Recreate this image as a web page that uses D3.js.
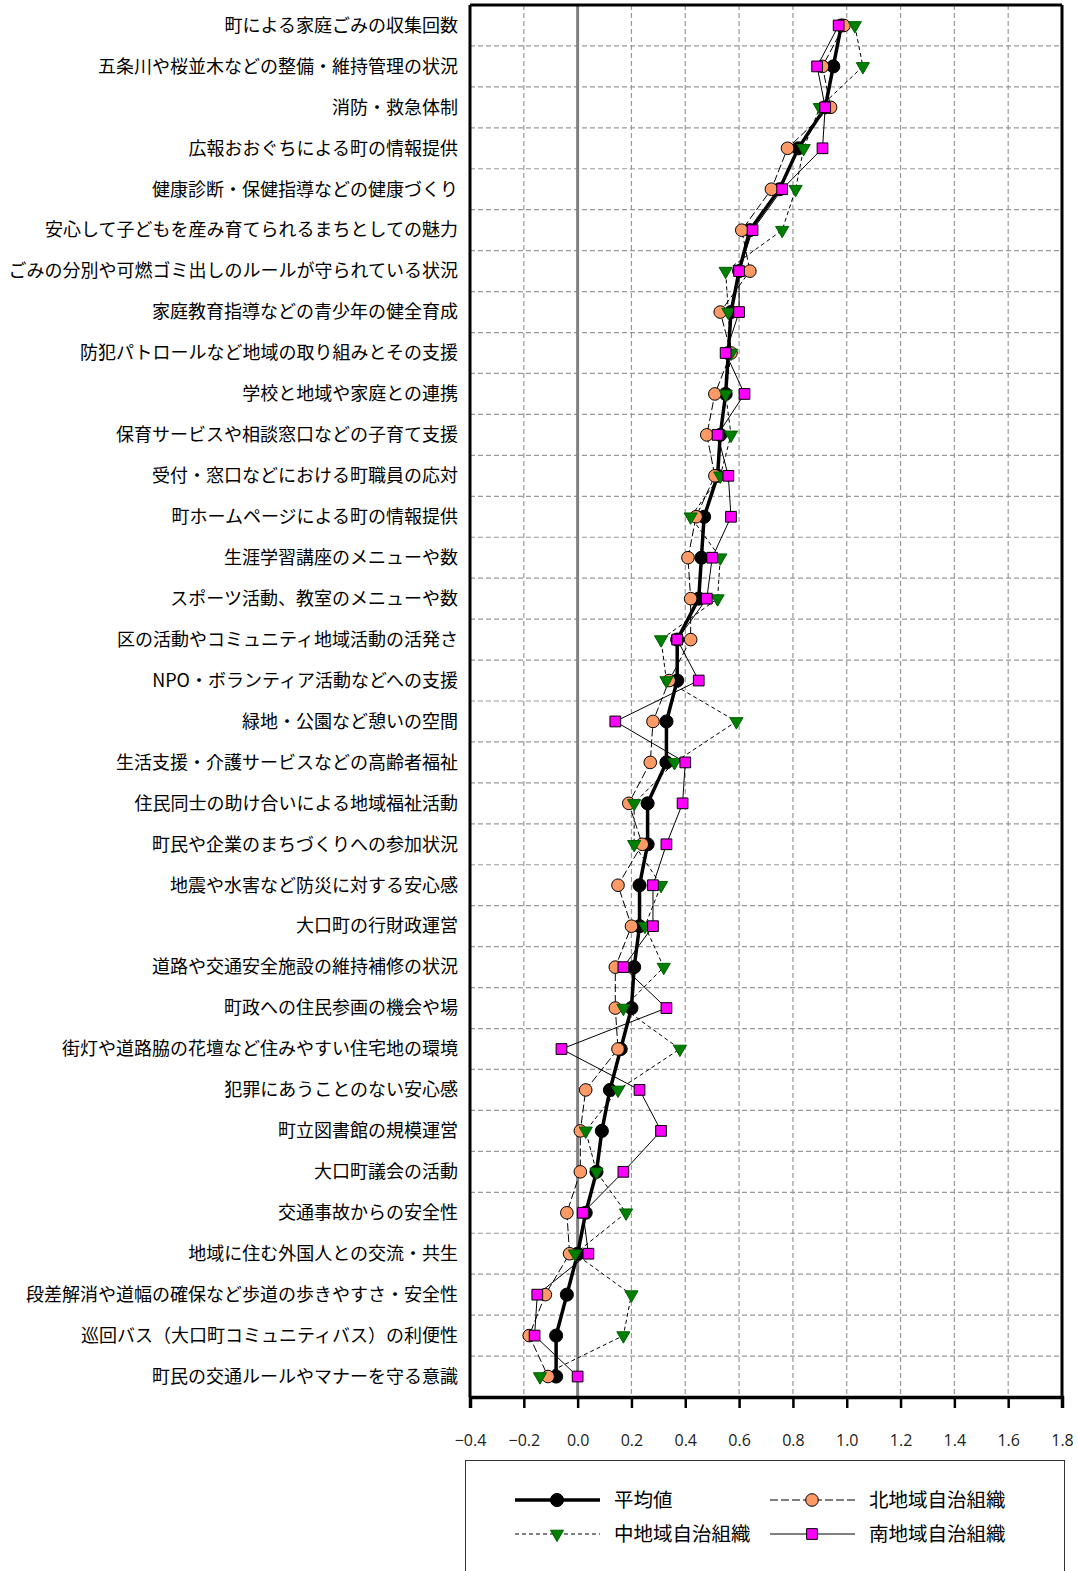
<!DOCTYPE html>
<html>
<head>
<meta charset="utf-8">
<script src="https://cdn.jsdelivr.net/npm/d3@7"></script>
<style>
  body { margin: 0; background: #fff; }
</style>
</head>
<body>
<svg id="chart" width="1078" height="1571"></svg>
<script>
// 項目（上から順）
const categories = [
  "町による家庭ごみの収集回数",
  "五条川や桜並木などの整備・維持管理の状況",
  "消防・救急体制",
  "広報おおぐちによる町の情報提供",
  "健康診断・保健指導などの健康づくり",
  "安心して子どもを産み育てられるまちとしての魅力",
  "ごみの分別や可燃ゴミ出しのルールが守られている状況",
  "家庭教育指導などの青少年の健全育成",
  "防犯パトロールなど地域の取り組みとその支援",
  "学校と地域や家庭との連携",
  "保育サービスや相談窓口などの子育て支援",
  "受付・窓口などにおける町職員の応対",
  "町ホームページによる町の情報提供",
  "生涯学習講座のメニューや数",
  "スポーツ活動、教室のメニューや数",
  "区の活動やコミュニティ地域活動の活発さ",
  "NPO・ボランティア活動などへの支援",
  "緑地・公園など憩いの空間",
  "生活支援・介護サービスなどの高齢者福祉",
  "住民同士の助け合いによる地域福祉活動",
  "町民や企業のまちづくりへの参加状況",
  "地震や水害など防災に対する安心感",
  "大口町の行財政運営",
  "道路や交通安全施設の維持補修の状況",
  "町政への住民参画の機会や場",
  "街灯や道路脇の花壇など住みやすい住宅地の環境",
  "犯罪にあうことのない安心感",
  "町立図書館の規模運営",
  "大口町議会の活動",
  "交通事故からの安全性",
  "地域に住む外国人との交流・共生",
  "段差解消や道幅の確保など歩道の歩きやすさ・安全性",
  "巡回バス（大口町コミュニティバス）の利便性",
  "町民の交通ルールやマナーを守る意識"
];

// 平均値
const avgValues = [0.98, 0.95, 0.92, 0.82, 0.75, 0.64, 0.60, 0.57, 0.56, 0.55, 0.53, 0.52,
  0.47, 0.46, 0.45, 0.37, 0.37, 0.33, 0.33, 0.26, 0.26, 0.23, 0.23, 0.21, 0.20, 0.16,
  0.12, 0.09, 0.07, 0.03, 0.00, -0.04, -0.08, -0.08];
// 北地域自治組織
const northValues = [0.99, 0.91, 0.94, 0.78, 0.72, 0.61, 0.64, 0.53, 0.57, 0.51, 0.48, 0.51,
  0.44, 0.41, 0.42, 0.42, 0.34, 0.28, 0.27, 0.19, 0.24, 0.15, 0.20, 0.14, 0.14, 0.15,
  0.03, 0.01, 0.01, -0.04, -0.03, -0.12, -0.18, -0.11];
// 中地域自治組織
const middleValues = [1.03, 1.06, 0.90, 0.84, 0.81, 0.76, 0.55, 0.56, 0.57, 0.55, 0.57, 0.53,
  0.42, 0.53, 0.52, 0.31, 0.33, 0.59, 0.36, 0.21, 0.21, 0.31, 0.25, 0.32, 0.17, 0.38,
  0.15, 0.03, 0.07, 0.18, -0.01, 0.20, 0.17, -0.14];
// 南地域自治組織
const southValues = [0.97, 0.89, 0.92, 0.91, 0.76, 0.65, 0.60, 0.60, 0.55, 0.62, 0.52, 0.56,
  0.57, 0.50, 0.48, 0.37, 0.45, 0.14, 0.40, 0.39, 0.33, 0.28, 0.28, 0.17, 0.33, -0.06,
  0.23, 0.31, 0.17, 0.02, 0.04, -0.15, -0.16, 0.00];

const xTicks = [-0.4, -0.2, 0.0, 0.2, 0.4, 0.6, 0.8, 1.0, 1.2, 1.4, 1.6, 1.8];

const seriesNames = ["平均値", "北地域自治組織", "中地域自治組織", "南地域自治組織"];

const svg = d3.select("#chart");
const plotLeft = 470, plotRight = 1062, plotTop = 5, plotBottom = 1397;

const x = d3.scaleLinear().domain([-0.4, 1.8]).range([plotLeft, plotRight]);
const y = d3.scaleBand().domain(categories).range([plotTop, plotBottom]);
const cy = d => y(d) + y.bandwidth() / 2;

// grid lines
const grid = svg.append("g");
grid.selectAll(".vgrid")
  .data(xTicks.filter(t => t > -0.4 && t < 1.8 && Math.abs(t) > 1e-9))
  .enter().append("line")
  .attr("x1", d => x(d)).attr("x2", d => x(d))
  .attr("y1", plotTop).attr("y2", plotBottom)
  .attr("stroke", "#999").attr("stroke-width", 1.2)
  .attr("stroke-dasharray", "5,3");
grid.selectAll(".hgrid")
  .data(categories.slice(1))
  .enter().append("line")
  .attr("x1", plotLeft).attr("x2", plotRight)
  .attr("y1", d => y(d)).attr("y2", d => y(d))
  .attr("stroke", "#999").attr("stroke-width", 1.2)
  .attr("stroke-dasharray", "5,3");

// zero line
svg.append("line")
  .attr("x1", x(0)).attr("x2", x(0))
  .attr("y1", plotTop).attr("y2", plotBottom)
  .attr("stroke", "#808080").attr("stroke-width", 3);

// series setup
const series = [
  { name: seriesNames[0], values: avgValues, width: 3.5, dash: null,
    symbol: d3.symbolCircle, size: 135, fill: "#000", stroke: "#000", rotate: 0 },
  { name: seriesNames[1], values: northValues, width: 1, dash: "8,3",
    symbol: d3.symbolCircle, size: 125, fill: "#FF9966", stroke: "#000", rotate: 0 },
  { name: seriesNames[2], values: middleValues, width: 1, dash: "4,3",
    symbol: d3.symbolTriangle, size: 75, fill: "#008000", stroke: "#006000", rotate: 180 },
  { name: seriesNames[3], values: southValues, width: 1, dash: null,
    symbol: d3.symbolSquare, size: 115, fill: "#FF00FF", stroke: "#000", rotate: 0 }
];

const line = d3.line().x(d => x(d.v)).y(d => cy(d.c));

// lines (thin ones first, average on top)
[3, 2, 1, 0].forEach(i => {
  const s = series[i];
  const pts = categories.map((c, j) => ({ c: c, v: s.values[j] }));
  svg.append("path")
    .datum(pts)
    .attr("d", line)
    .attr("fill", "none")
    .attr("stroke", "#000")
    .attr("stroke-width", s.width)
    .attr("stroke-dasharray", s.dash);
});

// markers
series.forEach(s => {
  const pts = categories.map((c, j) => ({ c: c, v: s.values[j] }));
  svg.append("g").selectAll("path")
    .data(pts)
    .enter().append("path")
    .attr("d", d3.symbol().type(s.symbol).size(s.size))
    .attr("transform", d => `translate(${x(d.v)},${cy(d.c)}) rotate(${s.rotate})`)
    .attr("fill", s.fill)
    .attr("stroke", s.stroke)
    .attr("stroke-width", 1);
});

// frame
svg.append("line").attr("x1", plotLeft).attr("x2", plotLeft).attr("y1", plotTop).attr("y2", plotBottom)
  .attr("stroke", "#000").attr("stroke-width", 3);
svg.append("line").attr("x1", plotRight).attr("x2", plotRight).attr("y1", plotTop).attr("y2", plotBottom)
  .attr("stroke", "#000").attr("stroke-width", 3);
svg.append("line").attr("x1", plotLeft).attr("x2", plotRight).attr("y1", plotTop).attr("y2", plotTop)
  .attr("stroke", "#000").attr("stroke-width", 3);

// x axis
const xAxis = d3.axisBottom(x)
  .tickValues(xTicks)
  .tickSize(11)
  .tickPadding(27)
  .tickFormat(d3.format(".1f"));
const gx = svg.append("g")
  .attr("transform", `translate(0,${plotBottom})`)
  .call(xAxis);
gx.select(".domain").attr("stroke-width", 3.5);
gx.selectAll(".tick line").attr("stroke-width", 2.5);
gx.selectAll(".tick text")
  .attr("font-family", "'Open Sans', 'DejaVu Sans', sans-serif")
  .attr("font-size", 16)
  .attr("fill", "#222");

// category labels
svg.append("g").selectAll("text")
  .data(categories)
  .enter().append("text")
  .attr("x", 458)
  .attr("y", d => cy(d))
  .attr("dy", "0.35em")
  .attr("text-anchor", "end")
  .attr("font-family", "'Noto Sans CJK JP', sans-serif")
  .attr("font-size", 18)
  .attr("fill", "#000")
  .text(d => d);

// legend
const lg = svg.append("g");
lg.append("rect")
  .attr("x", 465.5).attr("y", 1460.5)
  .attr("width", 599).attr("height", 130)
  .attr("fill", "#fff").attr("stroke", "#333").attr("stroke-width", 1);

const legendPos = [
  { x: 515, y: 1500 },
  { x: 770, y: 1500 },
  { x: 515, y: 1534 },
  { x: 770, y: 1534 }
];
series.forEach((s, i) => {
  const p = legendPos[i];
  lg.append("line")
    .attr("x1", p.x).attr("x2", p.x + 85)
    .attr("y1", p.y).attr("y2", p.y)
    .attr("stroke", "#000")
    .attr("stroke-width", s.width)
    .attr("stroke-dasharray", s.dash);
  lg.append("path")
    .attr("d", d3.symbol().type(s.symbol).size(s.size))
    .attr("transform", `translate(${p.x + 42},${p.y}) rotate(${s.rotate})`)
    .attr("fill", s.fill)
    .attr("stroke", s.stroke);
  lg.append("text")
    .attr("x", p.x + 99)
    .attr("y", p.y)
    .attr("dy", "0.35em")
    .attr("font-family", "'Noto Sans CJK JP', sans-serif")
    .attr("font-size", 19.5)
    .attr("fill", "#000")
    .text(s.name);
});
</script>
</body>
</html>
